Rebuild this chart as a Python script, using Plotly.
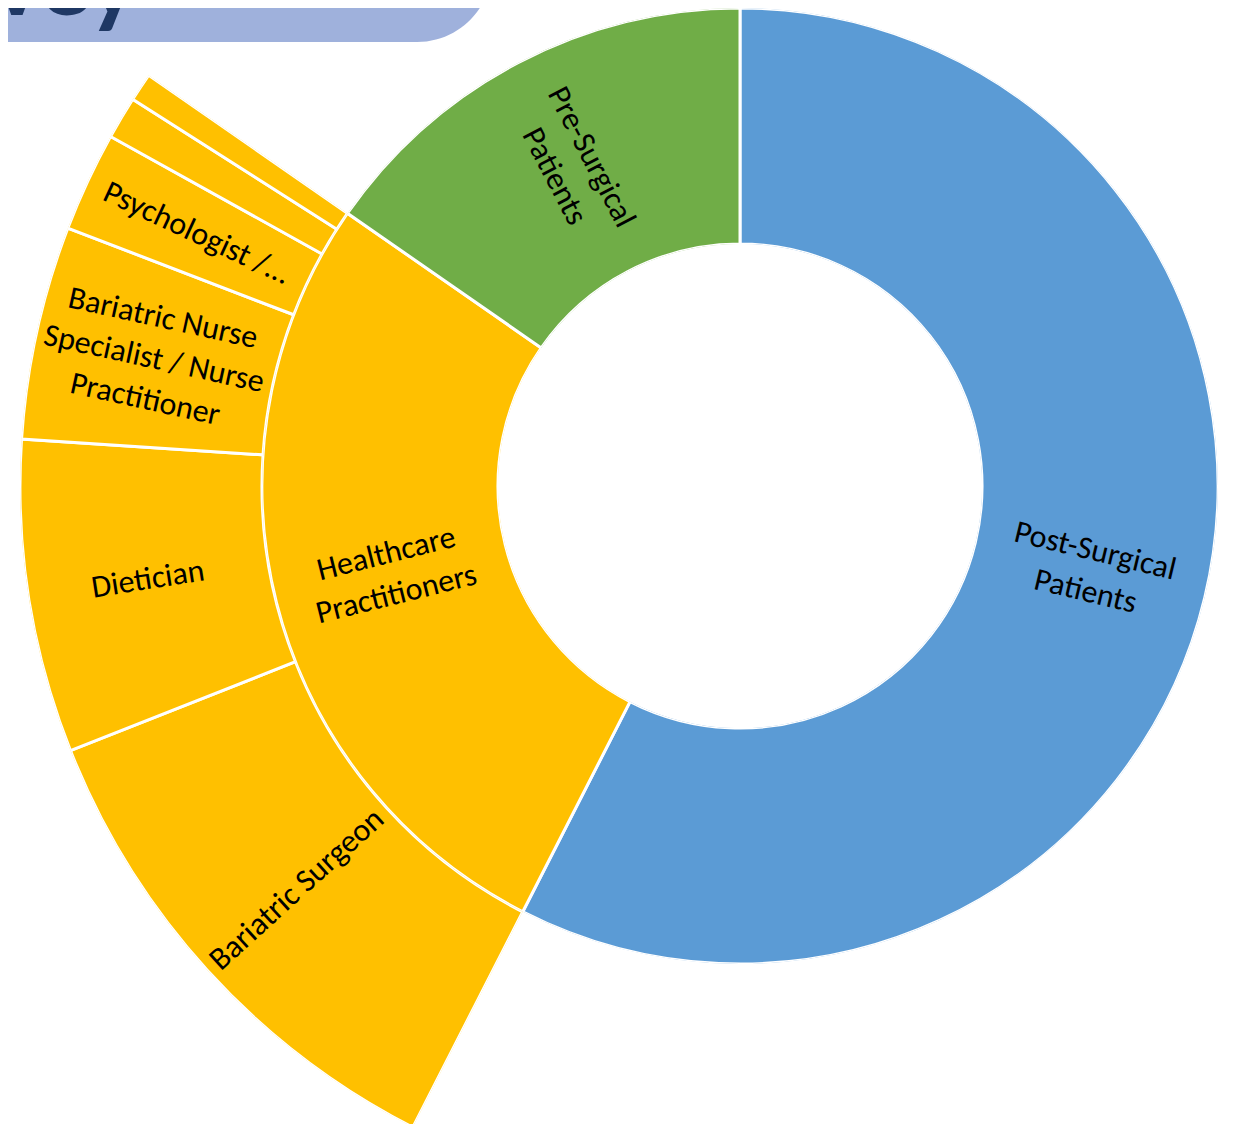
import numpy as np
import plotly.graph_objects as go

# ---------------- data ----------------
group_names = ["Post-Surgical<br>Patients", "Healthcare<br>Practitioners", "Pre-Surgical<br>Patients"]
group_colors = ["#5B9BD5", "#FFC000", "#70AD47"]
post_surgical = 180
pre_surgical = 48
role_names = ["Bariatric Surgeon", "Dietician",
              "Bariatric Nurse<br>Specialist / Nurse<br>Practitioner",
              "Psychologist /...", "", ""]
role_counts = [36, 22, 15, 7, 3, 2]
title_text = "Survey"

hcp_total = sum(role_counts)
group_counts = np.array([post_surgical, hcp_total, pre_surgical], dtype=float)
total = group_counts.sum()

# ---------------- geometry (layout only) ----------------
W, H = 1238, 1124
CX, CY = 732, 478          # centre in px from left / top of the figure
HC = H - CY                # centre in px from bottom
R0, R1, R2 = 242, 478, 720  # hole, ring 1 outer, ring 2 outer
FONT = "Calibri, Carlito, Lato, sans-serif"
LABEL_SIZE = 32

deg = 360.0 / total
g_width = group_counts * deg
g_start = np.cumsum(group_counts) * deg - g_width
g_mid = g_start + g_width / 2

rc = np.array(role_counts, dtype=float)
r_width = rc * deg
r_start = g_start[1] + np.cumsum(rc) * deg - r_width
r_mid = r_start + r_width / 2


def sector_bbox(s0, s1):
    arc = s1 - s0
    a0 = s0 % 360
    a1 = a0 + arc
    ax0, ay0 = np.cos(np.radians(a0)), np.sin(np.radians(a0))
    ax1, ay1 = np.cos(np.radians(a1)), np.sin(np.radians(a1))
    if (a0 <= 90 and a1 >= 90) or (a0 > 90 and a1 >= 450):
        y1 = 1
    elif ay0 <= 0 and ay1 <= 0:
        y1 = 0
    else:
        y1 = max(ay0, ay1)
    if (a0 <= 180 and a1 >= 180) or (a0 > 180 and a1 >= 540):
        x0 = -1
    elif ax0 >= 0 and ax1 >= 0:
        x0 = 0
    else:
        x0 = min(ax0, ax1)
    if (a0 <= 270 and a1 >= 270) or (a0 > 270 and a1 >= 630):
        y0 = -1
    elif ay0 >= 0 and ay1 >= 0:
        y0 = 0
    else:
        y0 = min(ay0, ay1)
    if a1 >= 360:
        x1 = 1
    elif ax0 <= 0 and ax1 <= 0:
        x1 = 0
    else:
        x1 = max(ax0, ax1)
    return x0, y0, x1, y1


# outer ring sector (math angles, counter-clockwise from 3 o'clock)
sec_lo = 90 - (g_start[1] + g_width[1])
sec_hi = 90 - g_start[1]
bx0, by0, bx1, by1 = sector_bbox(sec_lo, sec_hi)
lims = [R2]
if bx0 < 0: lims.append(CX / -bx0)
if bx1 > 0: lims.append((W - CX) / bx1)
if by0 < 0: lims.append(HC / -by0)
if by1 > 0: lims.append((H - HC) / by1)
R2e = min(lims) - 0.01
clamp = lambda v: min(1.0, max(0.0, v))
dom2x = [clamp((CX + R2e * bx0) / W), clamp((CX + R2e * bx1) / W)]
dom2y = [clamp((HC + R2e * by0) / H), clamp((HC + R2e * by1) / H)]

fig = go.Figure()
fig.add_trace(go.Barpolar(
    r=[1] * len(group_counts), base=[1] * len(group_counts),
    theta=g_mid, width=g_width,
    marker=dict(color=group_colors, line=dict(color="white", width=3)),
    subplot="polar", hoverinfo="skip", showlegend=False))
fig.add_trace(go.Barpolar(
    r=[1] * len(rc), base=[2] * len(rc),
    theta=r_mid, width=r_width,
    marker=dict(color=group_colors[1], line=dict(color="white", width=3)),
    subplot="polar2", hoverinfo="skip", showlegend=False))


def radial_label(text, mid_cw, radius, size=LABEL_SIZE):
    phi = (90 - mid_cw) % 360
    if 90 < phi < 270:
        ta = 180 - phi
    else:
        ta = -phi if phi <= 90 else 360 - phi
    x = (CX + radius * np.cos(np.radians(phi))) / W
    y = (HC + radius * np.sin(np.radians(phi))) / H
    return dict(text=text, x=x, y=y, xref="paper", yref="paper",
                xanchor="center", yanchor="middle", showarrow=False,
                textangle=ta, align="center",
                font=dict(family=FONT, size=size, color="#000000"))


annotations = []
for name, mid in zip(group_names, g_mid):
    annotations.append(radial_label(name, mid, (R0 + R1) / 2))
for name, mid, w in zip(role_names, r_mid, r_width):
    if name and w >= 5:
        annotations.append(radial_label(name, mid, (R1 + R2) / 2))

# title (cropped at the top-left like the reference)
annotations.append(dict(text="<b>%s</b>" % title_text, x=131 / W, y=(H - 36) / H,
                        xref="paper", yref="paper", xanchor="right", yanchor="bottom",
                        showarrow=False,
                        font=dict(family=FONT, size=100, color="#1F3864")))

# rounded title box
bx_r, by_b, rad = 484, 34, 75
k = 0.5523 * rad
pts = lambda x, y: "%.5f,%.5f" % (x / W, (H - y) / H)
path = ("M " + pts(-20, -100) + " L " + pts(bx_r, -100) + " L " + pts(bx_r, by_b - rad) +
        " C " + pts(bx_r, by_b - rad + k) + " " + pts(bx_r - rad + k, by_b) + " " + pts(bx_r - rad, by_b) +
        " L " + pts(-20, by_b) + " Z")

polar_common = dict(bgcolor="rgba(0,0,0,0)", barmode="overlay",
                    angularaxis=dict(visible=False, rotation=90, direction="clockwise"))

fig.update_layout(
    width=W, height=H,
    margin=dict(l=0, r=0, t=0, b=0),
    paper_bgcolor="white", plot_bgcolor="white",
    showlegend=False,
    polar=dict(domain=dict(x=[(CX - R1) / W, (CX + R1) / W],
                           y=[clamp((HC - R1) / H), clamp((HC + R1) / H)]),
               hole=R0 / R1, radialaxis=dict(visible=False, range=[1, 2]), **polar_common),
    polar2=dict(domain=dict(x=dom2x, y=dom2y), sector=[sec_lo, sec_hi],
                hole=R1 / R2e, radialaxis=dict(visible=False, range=[2, 3]), **polar_common),
    annotations=annotations,
    shapes=[dict(type="path", path=path, xref="paper", yref="paper",
                 fillcolor="#9FB1DC", line=dict(width=0), layer="below")],
)

fig.write_html("out.html")
